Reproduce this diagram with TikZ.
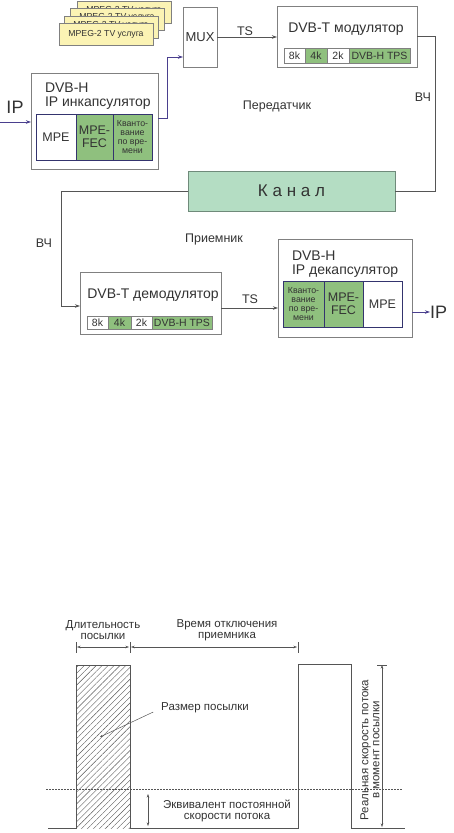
\documentclass[tikz,border=0pt]{standalone}
\usepackage{fontspec}
\setmainfont{Liberation Sans}
\usetikzlibrary{arrows.meta,patterns.meta}
\definecolor{boxline}{HTML}{808080}
\definecolor{conn}{HTML}{555555}
\definecolor{navy}{HTML}{34346E}
\definecolor{ipcol}{HTML}{4A3F8E}
\definecolor{grn}{HTML}{8FC07E}
\definecolor{chan}{HTML}{B4DDC3}
\definecolor{chanline}{HTML}{6F8A7A}
\definecolor{yel}{HTML}{FBF3B4}
\definecolor{txt}{HTML}{333333}
\begin{document}
\begin{tikzpicture}[x=1pt,y=-1pt,
  every node/.style={text=txt,inner sep=0pt,outer sep=0pt},
  box/.style={draw=boxline,fill=white,line width=0.8pt},
  svcbox/.style={draw=boxline,fill=yel,line width=0.6pt,minimum width=94pt,minimum height=22pt,font=\fontsize{8.7}{9}\selectfont},
  inblk/.style={draw=navy,line width=0.7pt,align=center,font=\fontsize{12.5}{13}\selectfont},
  smallblk/.style={draw=navy,line width=0.7pt,align=center,font=\fontsize{8.8}{8.8}\selectfont},
  tcell/.style={draw=boxline,line width=0.6pt,minimum height=15pt,font=\fontsize{10.5}{11}\selectfont},
  title/.style={font=\fontsize{14}{13.5}\selectfont,align=left},
  lbl/.style={font=\fontsize{12.5}{13}\selectfont},
  wire/.style={draw=conn,line width=0.8pt},
  arr/.style={wire,-{Stealth[length=5pt,width=3.5pt]}},
  iparr/.style={draw=ipcol,line width=0.8pt,-{Stealth[length=5pt,width=3.5pt]}},
  btxt/.style={font=\fontsize{11.5}{11}\selectfont,align=center},
  dimarr/.style={draw=conn,line width=0.5pt,{Stealth[length=3.5pt,width=2.5pt]}-{Stealth[length=3.5pt,width=2.5pt]}},
  tick/.style={draw=conn,line width=0.6pt}]
\useasboundingbox (0,0) rectangle (453,833);

% ---- service stack ----
\node[svcbox,text depth=5pt] (svc4) at (124,12) {MPEG-2 TV услуга};
\node[svcbox,text depth=5pt] (svc3) at (117,19) {MPEG-2 TV услуга};
\node[svcbox,text depth=5pt] (svc2) at (111,27) {MPEG-2 TV услуга};
\node[svcbox] (svc1) at (106,34) {MPEG-2 TV услуга};

% ---- MUX ----
\node[box,minimum width=34pt,minimum height=60pt,font=\fontsize{13}{13}\selectfont] (mux) at (200,37) {MUX};

% ---- modulator ----
\node[box,minimum width=140pt,minimum height=61pt] (mod) at (347,36.5) {};
\node[font=\fontsize{14}{14}\selectfont] (modt) at (346,29) {DVB-T модулятор};
\node[tcell,fill=white,minimum width=21pt] (m8) at (294.5,55.5) {8k};
\node[tcell,fill=grn,minimum width=22pt] (m4) at (316,55.5) {4k};
\node[tcell,fill=white,minimum width=22pt] (m2) at (338,55.5) {2k};
\node[tcell,fill=grn,minimum width=61pt] (mt) at (379.5,55.5) {DVB-H TPS};

% ---- encapsulator ----
\node[box,minimum width=127pt,minimum height=96pt] (enc) at (94.5,121) {};
\node[title,anchor=north west] (enct) at (45,83) {DVB-H\\IP инкапсулятор};
\node[inblk,fill=white,minimum width=40pt,minimum height=46pt] (empe) at (56,137) {MPE};
\node[inblk,fill=grn,minimum width=37pt,minimum height=46pt] (efec) at (94.5,137) {MPE-\\FEC};
\node[smallblk,fill=grn,minimum width=39pt,minimum height=46pt] (eti) at (132.5,137) {Кванто-\\вание\\по вре-\\мени};

\node[font=\fontsize{18}{18}\selectfont] (ipin) at (15,107) {IP};
\coordinate (ipstart) at (0,122);

% ---- channel ----
\node[draw=chanline,fill=chan,line width=0.8pt,minimum width=207pt,minimum height=40pt,font=\fontsize{17}{17}\selectfont] (kanal) at (291.5,191) {К а н а л};

\node[lbl] (tx) at (277,106) {Передатчик};
\node[lbl] (hf1) at (423,97) {ВЧ};
\node[lbl] (ts1) at (245,31) {TS};

\node[lbl] (rx) at (214,239) {Приемник};
\node[lbl] (hf2) at (44,243) {ВЧ};

% ---- demodulator ----
\node[box,minimum width=141pt,minimum height=62pt] (demod) at (150.5,303) {};
\node[font=\fontsize{14}{14}\selectfont] (demodt) at (153,295) {DVB-T демодулятор};
\node[tcell,fill=white,minimum width=21pt,minimum height=13pt] (d8) at (97.5,322.5) {8k};
\node[tcell,fill=grn,minimum width=23pt,minimum height=13pt] (d4) at (119.5,322.5) {4k};
\node[tcell,fill=white,minimum width=21pt,minimum height=13pt] (d2) at (141.5,322.5) {2k};
\node[tcell,fill=grn,minimum width=60pt,minimum height=13pt] (dt) at (182,322.5) {DVB-H TPS};

% ---- decapsulator ----
\node[box,minimum width=134pt,minimum height=98pt] (dec) at (345,288) {};
\node[title,anchor=north west] (dect) at (292,251) {DVB-H\\IP декапсулятор};
\node[smallblk,fill=grn,minimum width=41pt,minimum height=46pt] (dti) at (303.5,304) {Кванто-\\вание\\по вре-\\мени};
\node[inblk,fill=grn,minimum width=39pt,minimum height=46pt] (dfec) at (343.5,304) {MPE-\\FEC};
\node[inblk,fill=white,minimum width=39pt,minimum height=46pt] (dmpe) at (382.5,304) {MPE};
\node[font=\fontsize{18}{18}\selectfont,anchor=west] (ipout) at (430,312) {IP};
\node[lbl] (ts2) at (250,299) {TS};

% ---- connectors ----
\draw[iparr] (ipstart) -- (ipstart -| enc.west);
\draw[iparr] ([yshift=3pt]enc.east) -- ++(9,0) |- ([yshift=-20pt]mux.west);
\draw[arr] (mux.east) -- (mux.east -| mod.west);
\draw[wire] (mod.east) -- ++(18,0) |- (kanal.east);
\coordinate (bendl) at (61,191);
\draw[arr] (kanal.west) -- (bendl) |- ([yshift=-3pt]demod.west);
\draw[arr] ([yshift=-5pt]demod.east) -- ([yshift=-5pt]demod.east -| dec.west);
\draw[iparr] ([yshift=-24pt]dec.east) -- (ipout.west);

% ================= bottom diagram =================
\fill[pattern={Lines[angle=45,distance=4.2pt,line width=0.4pt]},pattern color=conn] (76,665) rectangle (130,828);
\draw[draw=conn,line width=0.8pt] (48,828) -- (76,828) -- (76,665) -- (130,665) -- (130,828) -- (298,828) -- (298,664) -- (351,664) -- (351,828) -- (405,828);
\draw[draw=conn,line width=0.7pt,dash pattern=on 1.5pt off 1.5pt] (46,789) -- (403,789);

\coordinate (t1a) at (76,642); \coordinate (t1b) at (76,653);
\coordinate (t2a) at (130,642); \coordinate (t2b) at (130,653);
\coordinate (t3a) at (298,642); \coordinate (t3b) at (298,653);
\draw[tick] (t1a) -- (t1b);
\draw[tick] (t2a) -- (t2b);
\draw[tick] (t3a) -- (t3b);
\coordinate (d1) at (77,647); \coordinate (d2) at (129,647);
\coordinate (d3) at (131,647); \coordinate (d4) at (297,647);
\draw[dimarr] (d1) -- (d2);
\draw[dimarr] (d3) -- (d4);

\node[btxt] (burst) at (103,630.5) {Длительность\\посылки};
\node[btxt] (off) at (227,630.5) {Время отключения\\приемника};
\node[btxt] (bsize) at (205,708) {Размер посылки};
\coordinate (bdot) at (100,737);
\draw[draw=conn,line width=0.5pt,-{Stealth[length=3pt,width=2.5pt]}] ([xshift=-8pt,yshift=-4pt]bsize.west) -- (bdot);

\coordinate (e1) at (148,794); \coordinate (e2) at (148,826);
\draw[dimarr] (e1) -- (e2);
\node[btxt] (equiv) at (227,810.5) {Эквивалент постоянной\\скорости потока};

\coordinate (r1) at (382,665); \coordinate (r2) at (382,827);
\draw[tick] (377,665) -- (387,665);
\draw[dimarr] (r1) -- (r2);
\node[btxt,rotate=90] (real) at (370,750) {Реальная скорость потока\\в момент посылки};
\end{tikzpicture}
\end{document}
